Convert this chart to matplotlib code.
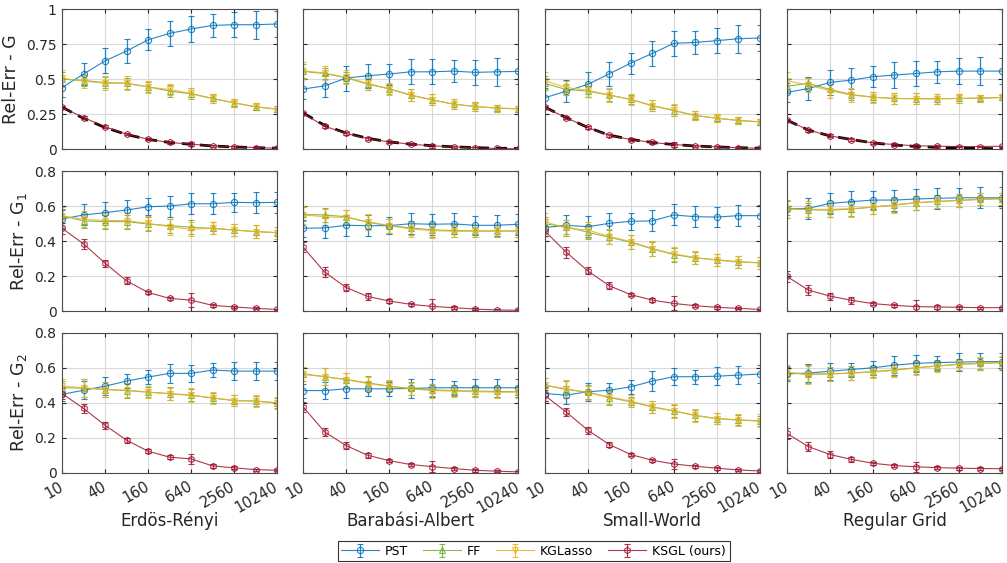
import numpy as np
import matplotlib
matplotlib.use('Agg')
import matplotlib.pyplot as plt

# tamaños de muestra (eje x, escala log2)
n_muestras = [10, 20, 40, 80, 160, 320, 640, 1280, 2560, 5120, 10240]
ticks_x = [10, 40, 160, 640, 2560, 10240]
grafos = ['Erdös-Rényi', 'Barabási-Albert', 'Small-World', 'Regular Grid']
metodos = ['PST', 'FF', 'KGLasso', 'KSGL (ours)']
etiquetas_y = ['Rel-Err - G', 'Rel-Err - G$_1$', 'Rel-Err - G$_2$']

# ---- fila 1: Rel-Err G ----
pst_g_er = [0.44, 0.536, 0.63, 0.70, 0.78, 0.826, 0.857, 0.883, 0.888, 0.888, 0.893]
ff_g_er = [0.50, 0.49, 0.475, 0.47, 0.445, 0.415, 0.395, 0.362, 0.331, 0.302, 0.286]
kgl_g_er = [0.505, 0.486, 0.47, 0.47, 0.443, 0.426, 0.398, 0.362, 0.331, 0.302, 0.286]
ksgl_g_er = [0.298, 0.226, 0.16, 0.107, 0.071, 0.048, 0.036, 0.024, 0.017, 0.012, 0.007]
cota_g_er = [0.30, 0.22, 0.155, 0.105, 0.07, 0.048, 0.035, 0.023, 0.016, 0.011, 0.007]

pst_g_ba = [0.429, 0.452, 0.507, 0.524, 0.536, 0.552, 0.552, 0.557, 0.548, 0.552, 0.555]
ff_g_ba = [0.555, 0.54, 0.51, 0.464, 0.432, 0.386, 0.352, 0.321, 0.305, 0.293, 0.288]
kgl_g_ba = [0.56, 0.543, 0.512, 0.47, 0.429, 0.386, 0.352, 0.321, 0.305, 0.293, 0.288]
ksgl_g_ba = [0.255, 0.164, 0.112, 0.076, 0.052, 0.036, 0.024, 0.017, 0.01, 0.005, 0.003]
cota_g_ba = [0.258, 0.17, 0.115, 0.078, 0.052, 0.036, 0.025, 0.017, 0.011, 0.007, 0.005]

pst_g_sw = [0.367, 0.414, 0.462, 0.538, 0.614, 0.683, 0.755, 0.762, 0.774, 0.788, 0.793]
ff_g_sw = [0.469, 0.426, 0.414, 0.386, 0.355, 0.31, 0.275, 0.24, 0.221, 0.205, 0.195]
kgl_g_sw = [0.488, 0.44, 0.421, 0.386, 0.355, 0.31, 0.279, 0.24, 0.221, 0.205, 0.195]
ksgl_g_sw = [0.298, 0.224, 0.155, 0.098, 0.069, 0.048, 0.033, 0.024, 0.017, 0.01, 0.007]
cota_g_sw = [0.30, 0.225, 0.155, 0.10, 0.07, 0.048, 0.033, 0.023, 0.016, 0.011, 0.007]

pst_g_rg = [0.405, 0.433, 0.476, 0.493, 0.517, 0.529, 0.54, 0.552, 0.557, 0.557, 0.557]
ff_g_rg = [0.45, 0.469, 0.426, 0.39, 0.371, 0.362, 0.36, 0.36, 0.362, 0.364, 0.369]
kgl_g_rg = [0.488, 0.457, 0.417, 0.386, 0.371, 0.362, 0.36, 0.36, 0.362, 0.364, 0.369]
ksgl_g_rg = [0.207, 0.136, 0.095, 0.069, 0.045, 0.033, 0.024, 0.021, 0.019, 0.019, 0.021]
cota_g_rg = [0.207, 0.136, 0.095, 0.069, 0.045, 0.03, 0.02, 0.013, 0.008, 0.005, 0.003]

# ---- fila 2: Rel-Err G1 ----
pst_g1_er = [0.527, 0.55, 0.563, 0.578, 0.597, 0.601, 0.614, 0.614, 0.622, 0.62, 0.622]
ff_g1_er = [0.546, 0.516, 0.512, 0.512, 0.498, 0.489, 0.48, 0.474, 0.464, 0.455, 0.449]
kgl_g1_er = [0.544, 0.525, 0.518, 0.518, 0.502, 0.483, 0.468, 0.474, 0.464, 0.455, 0.449]
ksgl_g1_er = [0.474, 0.385, 0.275, 0.174, 0.108, 0.074, 0.064, 0.034, 0.025, 0.017, 0.011]

pst_g1_ba = [0.474, 0.476, 0.491, 0.489, 0.489, 0.50, 0.497, 0.499, 0.491, 0.491, 0.497]
ff_g1_ba = [0.553, 0.55, 0.54, 0.508, 0.489, 0.476, 0.465, 0.461, 0.459, 0.459, 0.459]
kgl_g1_ba = [0.55, 0.54, 0.535, 0.512, 0.489, 0.47, 0.461, 0.457, 0.457, 0.457, 0.457]
ksgl_g1_ba = [0.366, 0.224, 0.136, 0.085, 0.059, 0.04, 0.028, 0.021, 0.013, 0.008, 0.006]

pst_g1_sw = [0.478, 0.491, 0.483, 0.502, 0.514, 0.516, 0.55, 0.54, 0.538, 0.546, 0.546]
ff_g1_sw = [0.499, 0.483, 0.451, 0.423, 0.394, 0.356, 0.324, 0.305, 0.294, 0.283, 0.277]
kgl_g1_sw = [0.512, 0.474, 0.464, 0.427, 0.398, 0.358, 0.328, 0.307, 0.292, 0.281, 0.277]
ksgl_g1_sw = [0.459, 0.337, 0.231, 0.146, 0.095, 0.064, 0.045, 0.032, 0.023, 0.017, 0.011]

pst_g1_rg = [0.584, 0.588, 0.616, 0.626, 0.635, 0.635, 0.641, 0.645, 0.648, 0.648, 0.648]
ff_g1_rg = [0.588, 0.58, 0.577, 0.584, 0.595, 0.607, 0.62, 0.627, 0.633, 0.639, 0.643]
kgl_g1_rg = [0.584, 0.582, 0.582, 0.586, 0.595, 0.607, 0.62, 0.627, 0.633, 0.639, 0.643]
ksgl_g1_rg = [0.199, 0.121, 0.087, 0.063, 0.044, 0.034, 0.027, 0.025, 0.023, 0.021, 0.021]

# ---- fila 3: Rel-Err G2 ----
pst_g2_er = [0.448, 0.472, 0.495, 0.524, 0.547, 0.568, 0.568, 0.587, 0.581, 0.581, 0.581]
ff_g2_er = [0.486, 0.484, 0.476, 0.47, 0.461, 0.453, 0.444, 0.427, 0.413, 0.41, 0.40]
kgl_g2_er = [0.495, 0.486, 0.476, 0.472, 0.461, 0.451, 0.442, 0.429, 0.413, 0.41, 0.40]
ksgl_g2_er = [0.453, 0.368, 0.272, 0.187, 0.124, 0.09, 0.08, 0.04, 0.029, 0.019, 0.015]

pst_g2_ba = [0.47, 0.47, 0.48, 0.48, 0.48, 0.482, 0.486, 0.486, 0.486, 0.486, 0.486]
ff_g2_ba = [0.566, 0.549, 0.533, 0.514, 0.495, 0.482, 0.474, 0.47, 0.467, 0.465, 0.463]
kgl_g2_ba = [0.562, 0.549, 0.533, 0.51, 0.495, 0.48, 0.47, 0.467, 0.463, 0.461, 0.461]
ksgl_g2_ba = [0.377, 0.234, 0.156, 0.101, 0.07, 0.048, 0.036, 0.025, 0.015, 0.01, 0.006]

pst_g2_sw = [0.453, 0.444, 0.463, 0.472, 0.491, 0.524, 0.549, 0.549, 0.552, 0.558, 0.564]
ff_g2_sw = [0.501, 0.476, 0.461, 0.43, 0.406, 0.377, 0.354, 0.328, 0.31, 0.303, 0.295]
kgl_g2_sw = [0.501, 0.48, 0.457, 0.434, 0.41, 0.377, 0.352, 0.328, 0.31, 0.301, 0.299]
ksgl_g2_sw = [0.442, 0.347, 0.244, 0.162, 0.105, 0.072, 0.051, 0.038, 0.027, 0.017, 0.011]

pst_g2_rg = [0.565, 0.57, 0.58, 0.59, 0.60, 0.615, 0.625, 0.63, 0.632, 0.635, 0.635]
ff_g2_rg = [0.57, 0.565, 0.565, 0.57, 0.578, 0.588, 0.60, 0.61, 0.62, 0.625, 0.63]
kgl_g2_rg = [0.575, 0.56, 0.565, 0.57, 0.575, 0.585, 0.60, 0.61, 0.62, 0.625, 0.63]
ksgl_g2_rg = [0.225, 0.15, 0.105, 0.077, 0.055, 0.042, 0.035, 0.03, 0.027, 0.025, 0.024]

# ---- barras de error (desv. estandar aprox., por fila) ----
pst_err_g = [0.07, 0.08, 0.09, 0.085, 0.075, 0.09, 0.09, 0.08, 0.09, 0.1, 0.09]
ff_err_g = [0.05, 0.04, 0.04, 0.04, 0.035, 0.04, 0.04, 0.035, 0.03, 0.025, 0.02]
kgl_err_g = [0.06, 0.05, 0.05, 0.05, 0.04, 0.04, 0.04, 0.035, 0.03, 0.025, 0.02]
ksgl_err_g = [0.01, 0.01, 0.01, 0.008, 0.008, 0.008, 0.015, 0.008, 0.006, 0.005, 0.004]
pst_err_g1 = [0.05, 0.06, 0.06, 0.06, 0.05, 0.06, 0.06, 0.06, 0.055, 0.06, 0.06]
ff_err_g1 = [0.04, 0.04, 0.04, 0.04, 0.04, 0.04, 0.04, 0.035, 0.035, 0.035, 0.035]
kgl_err_g1 = [0.05, 0.045, 0.045, 0.045, 0.04, 0.045, 0.04, 0.035, 0.035, 0.035, 0.035]
ksgl_err_g1 = [0.03, 0.03, 0.02, 0.02, 0.01, 0.01, 0.04, 0.01, 0.008, 0.006, 0.005]
pst_err_g2 = [0.04, 0.05, 0.05, 0.04, 0.04, 0.055, 0.05, 0.04, 0.05, 0.05, 0.05]
ff_err_g2 = [0.04, 0.05, 0.04, 0.04, 0.03, 0.035, 0.035, 0.03, 0.03, 0.03, 0.03]
kgl_err_g2 = [0.04, 0.05, 0.04, 0.04, 0.035, 0.035, 0.04, 0.035, 0.03, 0.035, 0.035]
ksgl_err_g2 = [0.03, 0.025, 0.02, 0.015, 0.01, 0.01, 0.03, 0.01, 0.008, 0.006, 0.006]

colores = ['#0072BD', '#77AC30', '#EDB120', '#A2142F']
marcadores = ['o', '^', 'v', 'h']

filas = [
    [[pst_g_er, ff_g_er, kgl_g_er, ksgl_g_er], [pst_g_ba, ff_g_ba, kgl_g_ba, ksgl_g_ba],
     [pst_g_sw, ff_g_sw, kgl_g_sw, ksgl_g_sw], [pst_g_rg, ff_g_rg, kgl_g_rg, ksgl_g_rg]],
    [[pst_g1_er, ff_g1_er, kgl_g1_er, ksgl_g1_er], [pst_g1_ba, ff_g1_ba, kgl_g1_ba, ksgl_g1_ba],
     [pst_g1_sw, ff_g1_sw, kgl_g1_sw, ksgl_g1_sw], [pst_g1_rg, ff_g1_rg, kgl_g1_rg, ksgl_g1_rg]],
    [[pst_g2_er, ff_g2_er, kgl_g2_er, ksgl_g2_er], [pst_g2_ba, ff_g2_ba, kgl_g2_ba, ksgl_g2_ba],
     [pst_g2_sw, ff_g2_sw, kgl_g2_sw, ksgl_g2_sw], [pst_g2_rg, ff_g2_rg, kgl_g2_rg, ksgl_g2_rg]],
]
errores = [
    [pst_err_g, ff_err_g, kgl_err_g, ksgl_err_g],
    [pst_err_g1, ff_err_g1, kgl_err_g1, ksgl_err_g1],
    [pst_err_g2, ff_err_g2, kgl_err_g2, ksgl_err_g2],
]
cotas = [cota_g_er, cota_g_ba, cota_g_sw, cota_g_rg]

fig = plt.figure(figsize=(10.07, 5.63), dpi=100)

lefts = [0.0616, 0.301, 0.541, 0.7815]
bottoms = [0.735, 0.447, 0.160]
ancho, alto = 0.2135, 0.249

handles = []
for i in range(3):
    for j in range(4):
        ax = fig.add_axes([lefts[j], bottoms[i], ancho, alto])
        for k in range(4):
            h = ax.errorbar(n_muestras, filas[i][j][k], yerr=errores[i][k], color=colores[k],
                            marker=marcadores[k], markersize=4.5, markerfacecolor='none',
                            markeredgewidth=0.8, linewidth=0.8, elinewidth=0.9, capsize=2.5,
                            alpha=0.85, label=metodos[k])
            if i == 0 and j == 0:
                handles.append(h)
        if i == 0:
            ax.plot(n_muestras, cotas[j], color='black', linestyle='--', linewidth=2.0, dashes=(4, 2.5), zorder=1)

        ax.set_xscale('log', base=2)
        ax.set_xlim(10, 10240)
        ax.set_xticks(ticks_x)
        ax.minorticks_off()
        if i == 0:
            ax.set_ylim(0, 1)
            ax.set_yticks([0, 0.25, 0.5, 0.75, 1])
            ax.set_yticklabels(['0', '0.25', '0.5', '0.75', '1'])
        else:
            ax.set_ylim(0, 0.8)
            ax.set_yticks([0, 0.2, 0.4, 0.6, 0.8])
            ax.set_yticklabels(['0', '0.2', '0.4', '0.6', '0.8'])
        ax.tick_params(direction='in', top=True, right=True, length=3, labelsize=10,
                       colors='#262626', pad=4)
        if j == 0:
            ax.set_ylabel(etiquetas_y[i], fontsize=12.5, color='#262626', labelpad=4)
        else:
            ax.set_yticklabels([])
        if i == 2:
            ax.set_xticklabels([str(t) for t in ticks_x], rotation=30, ha='right', va='center',
                               rotation_mode='anchor', fontsize=10.5)
            ax.tick_params(axis='x', pad=9)
            fig.text(lefts[j] + ancho / 2, 0.075, grafos[j], ha='center', va='center',
                     fontsize=12, color='#262626')
        else:
            ax.set_xticklabels([])
        ax.grid(True, color='#d9d9d9', linewidth=0.8)
        ax.set_axisbelow(True)
        for s in ax.spines.values():
            s.set_color('#4d4d4d')
            s.set_linewidth(0.8)

leg = fig.legend(handles=handles, labels=metodos, loc='center', bbox_to_anchor=(0.53, 0.021),
                 ncol=4, fontsize=9, frameon=True, fancybox=False, handlelength=3.0,
                 columnspacing=1.2, borderpad=0.3, handletextpad=0.5)
leg.get_frame().set_edgecolor('black')
leg.get_frame().set_linewidth(0.8)

fig.savefig('out.png', dpi=100)
